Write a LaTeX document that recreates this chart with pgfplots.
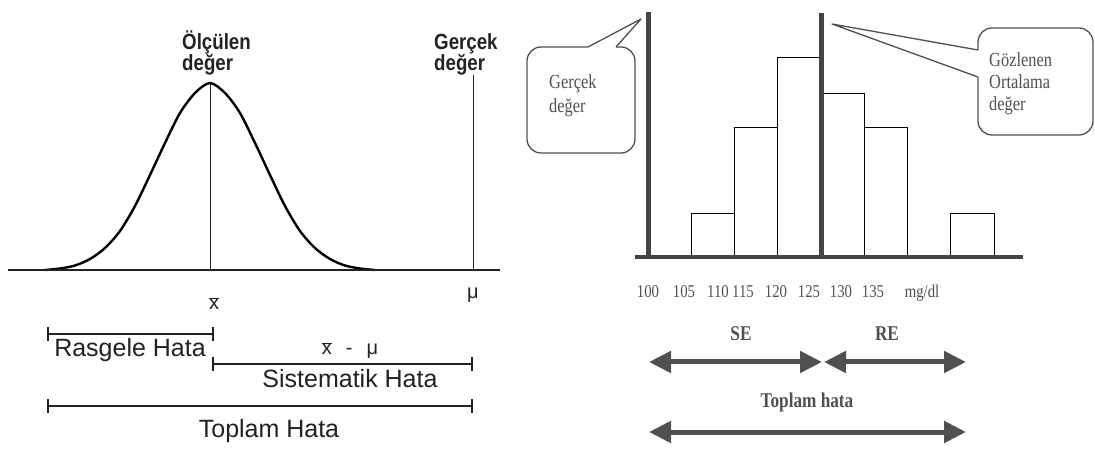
\documentclass[border=0pt]{standalone}
\usepackage{fontspec}
\setmainfont{Liberation Serif}
\newfontfamily\arial{Liberation Sans}
\newfontfamily\arialc[FakeStretch=0.85]{Liberation Sans}
\newfontfamily\timesc[FakeStretch=0.82]{Liberation Serif}
\usepackage{pgfplots}
\pgfplotsset{compat=1.18}
\usetikzlibrary{arrows.meta}

\definecolor{ink}{HTML}{222222}
\definecolor{darkbar}{HTML}{444444}
\definecolor{soft}{HTML}{505050}

\tikzset{
  fat/.style={line width=5pt, soft,
    {Triangle[width=21pt,length=22pt]}-{Triangle[width=21pt,length=22pt]}},
  sf/.style={font=\arial\fontsize{25}{25}\selectfont, text=ink, anchor=base, inner sep=0},
  bold/.style={font=\arialc\bfseries\fontsize{22}{22}\selectfont, text=ink, anchor=base west, inner sep=0},
  callout/.style={font=\timesc\fontsize{20}{20}\selectfont, text=soft, anchor=base west, inner sep=0},
  errlbl/.style={font=\timesc\bfseries\fontsize{21}{21}\selectfont, text=soft},
}

\begin{document}
\begin{tikzpicture}
\useasboundingbox (0,0) rectangle (1095pt,450pt);
\fill[white] (0,0) rectangle (1095pt,450pt);

% left panel: measured value distribution
\begin{axis}[at={(0pt,180pt)}, anchor=south west,
    x=1pt, y=1pt, xmin=0, xmax=520, ymin=0, ymax=270,
    axis lines=none, clip=false]
\addplot[ink, line width=1pt] coordinates {(210,0)(210,187)};
\addplot[ink, line width=1pt] coordinates {(473,0)(473,195)};
\addplot[black, line width=2.4pt, smooth] coordinates {
  (45,0)(60,1.5)(75,4.5)(90,11)(105,22)(120,39)(135,64)(150,95)
  (165,127)(180,157)(195,177)(210,187)(225,177)(240,157)(255,127)
  (270,95)(285,64)(300,39)(315,22)(330,11)(345,4.5)(360,1.5)(375,0)};
\addplot[ink, line width=2.6pt] coordinates {(8,0)(500,0)};
\end{axis}

% right panel: histogram
\begin{axis}[at={(520pt,193pt)}, anchor=south west,
    x=8.65pt, y=43pt, xmin=85.2, xmax=151.68, ymin=0, ymax=5.977,
    axis y line=none, axis x line*=bottom,
    x axis line style={draw=none}, major tick length=0pt,
    xtick={100,104.16,108.09,110.98,114.8,118.61,122.31,126.01,131.68},
    xticklabels={100,105,110,115,120,125,130,135,mg/dl},
    xticklabel style={anchor=center, yshift=-36pt, text=soft,
      font=\timesc\fontsize{18}{18}\selectfont, text height=12pt, text depth=3pt},
    clip=false]
\addplot[ybar interval, fill=white, draw=black, line width=1pt] coordinates {
  (105,1)(110,3)(115,4.65)(120,3.8)(125,3)(130,0)(135,1)(140,1)};
\addplot[darkbar, line width=4pt] coordinates {(98.5,0)(143.35,0)};
\addplot[darkbar, line width=5pt] coordinates {(100,0)(100,5.70)};
\addplot[darkbar, line width=5pt] coordinates {(120,0)(120,5.67)};
\end{axis}

% annotations, in image pixels (y downwards)
\begin{scope}[x=1pt, y=-1pt, shift={(0pt,450pt)}]
% left panel labels
\node[bold] at (182,50) {Ölçülen};
\node[bold] at (182,71) {değer};
\node[bold] at (434,50) {Gerçek};
\node[bold] at (434,71) {değer};
\node[anchor=base, font=\arial\fontsize{20}{20}\selectfont, text=ink, inner sep=0] at (214,310) {$\overline{\hbox{x}}$};
\node[anchor=base, font=\arial\fontsize{20}{20}\selectfont, text=ink, inner sep=0] at (473,299) {μ};
% brackets
\draw[ink, line width=1.8pt] (48,334) -- (213,334);
\draw[ink, line width=1.8pt] (48,327) -- (48,341) (213,327) -- (213,341);
\node[sf] at (130,357) {Rasgele Hata};
\node[anchor=base, font=\arial\fontsize{20}{20}\selectfont, text=ink, inner sep=0] at (350,355) {$\overline{\hbox{x}}$\hspace{14pt}-\hspace{14pt}μ};
\draw[ink, line width=1.8pt] (213,364) -- (472,364);
\draw[ink, line width=1.8pt] (213,357) -- (213,371) (472,357) -- (472,371);
\node[sf] at (350,387) {Sistematik Hata};
\draw[ink, line width=1.8pt] (48,406) -- (472,406);
\draw[ink, line width=1.8pt] (48,399) -- (48,413) (472,399) -- (472,413);
\node[sf] at (269,437) {Toplam Hata};

% right panel callouts
\draw[soft, line width=1.3pt, rounded corners=14pt]
  (588,47) -- (527,47) -- (527,153) -- (635,153) -- (635,47) -- (616,47);
\draw[soft, line width=1.3pt, line join=round] (616,47) -- (641,19) -- (588,47);
\node[callout] at (549,89) {Gerçek};
\node[callout] at (549,113) {değer};
\draw[soft, line width=1.3pt, rounded corners=14pt]
  (978,50) -- (978,28) -- (1093,28) -- (1093,135) -- (978,135) -- (978,77);
\draw[soft, line width=1.3pt, line join=round] (978,50) -- (832,24) -- (978,77);
\node[callout] at (989,67) {Gözlenen};
\node[callout] at (989,89) {Ortalama};
\node[callout] at (989,111) {değer};
% error arrows
\draw[fat] (649,362) -- (822,362);
\draw[fat] (824,362) -- (966,362);
\draw[fat] (649,432) -- (966,432);
\node[errlbl] at (741,334) {SE};
\node[errlbl] at (887,334) {RE};
\node[errlbl] at (807,402) {Toplam hata};
\end{scope}
\end{tikzpicture}
\end{document}
